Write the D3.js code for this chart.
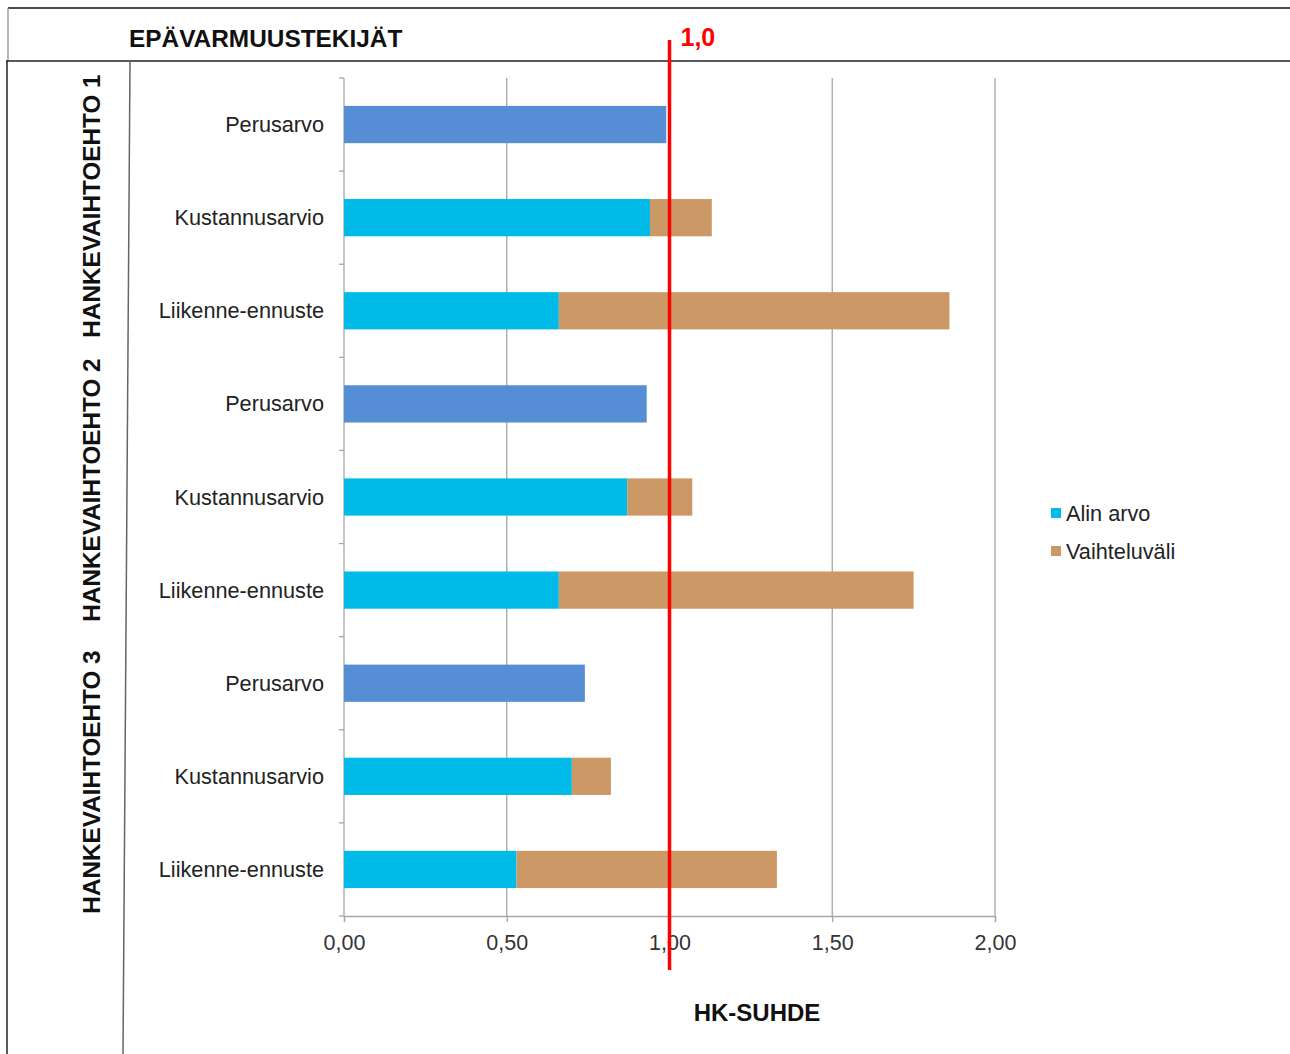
<!DOCTYPE html>
<html>
<head>
<meta charset="utf-8">
<script src="https://cdn.jsdelivr.net/npm/d3@7"></script>
<style>
  html, body { margin: 0; padding: 0; background: #fff; }
  svg { display: block; font-family: "Liberation Sans", Arial, sans-serif; }
</style>
</head>
<body>
<svg id="chart" width="1290" height="1054"></svg>
<script>
// Uncertainty factors per project alternative (top to bottom)
const categories = [
  "Perusarvo", "Kustannusarvio", "Liikenne-ennuste",
  "Perusarvo", "Kustannusarvio", "Liikenne-ennuste",
  "Perusarvo", "Kustannusarvio", "Liikenne-ennuste"
];
const groups = ["HANKEVAIHTOEHTO 1", "HANKEVAIHTOEHTO 2", "HANKEVAIHTOEHTO 3"];

// Lowest benefit-cost ratio (Perusarvo rows hold the base value)
const alinArvo = [0.99, 0.94, 0.66, 0.93, 0.87, 0.66, 0.74, 0.70, 0.53];
// Range between lowest and highest ratio
const vaihteluvali = [0, 0.19, 1.20, 0, 0.20, 1.09, 0, 0.12, 0.80];

const seriesNames = ["Alin arvo", "Vaihteluväli"];
const xTicks = [0, 0.5, 1.0, 1.5, 2.0];
const thresholdValue = 1.0;

const colors = { base: "#558ed5", alin: "#00bbe8", range: "#cc9966" };

const svg = d3.select("#chart");
const plot = { left: 344, right: 995, top: 78, bottom: 916 };

const x = d3.scaleLinear().domain([0, 2]).range([plot.left, plot.right]);
const y = d3.scaleBand()
  .domain(d3.range(categories.length))
  .range([plot.top, plot.bottom])
  .paddingInner(0.6)
  .paddingOuter(0.3);
const step = y.step();

const fmt = v => d3.format(".2f")(v).replace(".", ",");

// Frame: header strip and left border
const frame = svg.append("g").attr("fill", "none");
frame.append("line").attr("x1", 8).attr("x2", 1290).attr("y1", 8).attr("y2", 8)
  .attr("stroke", "#111").attr("stroke-width", 1.5);
frame.append("line").attr("x1", 8).attr("x2", 8).attr("y1", 8).attr("y2", 61)
  .attr("stroke", "#888").attr("stroke-width", 1.2);
frame.append("line").attr("x1", 6).attr("x2", 1290).attr("y1", 61).attr("y2", 61)
  .attr("stroke", "#222").attr("stroke-width", 1.5);
frame.append("line").attr("x1", 7).attr("x2", 7).attr("y1", 61).attr("y2", 1054)
  .attr("stroke", "#222").attr("stroke-width", 1.5);
frame.append("line").attr("x1", 130).attr("x2", 123).attr("y1", 62).attr("y2", 1054)
  .attr("stroke", "#666").attr("stroke-width", 1.5);

svg.append("text")
  .attr("x", 129).attr("y", 47)
  .attr("font-weight", "bold").attr("font-size", 24.4).attr("fill", "#111")
  .text("EPÄVARMUUSTEKIJÄT");

// Vertical gridlines
svg.append("g")
  .selectAll("line")
  .data(xTicks.slice(1))
  .join("line")
  .attr("x1", d => x(d)).attr("x2", d => x(d))
  .attr("y1", plot.top).attr("y2", plot.bottom)
  .attr("stroke", "#a6a6a6").attr("stroke-width", 1.3);

// X axis
const xAxis = svg.append("g")
  .attr("transform", `translate(0,${plot.bottom})`)
  .call(d3.axisBottom(x).tickValues(xTicks).tickFormat(fmt).tickSize(6).tickPadding(13));
xAxis.select(".domain").attr("stroke", "#a6a6a6").attr("stroke-width", 1.3);
xAxis.selectAll(".tick line").attr("stroke", "#a6a6a6").attr("stroke-width", 1.3);
xAxis.selectAll(".tick text")
  .attr("font-family", "'Liberation Sans', Arial, sans-serif")
  .attr("font-size", 21.5).attr("fill", "#333");

// Y axis with category boundary ticks
const yAxisG = svg.append("g");
yAxisG.append("line")
  .attr("x1", plot.left).attr("x2", plot.left)
  .attr("y1", plot.top).attr("y2", plot.bottom)
  .attr("stroke", "#a6a6a6").attr("stroke-width", 1.3);
yAxisG.selectAll("line.bt")
  .data(d3.range(categories.length + 1))
  .join("line").attr("class", "bt")
  .attr("x1", plot.left - 5).attr("x2", plot.left)
  .attr("y1", i => plot.top + i * step).attr("y2", i => plot.top + i * step)
  .attr("stroke", "#a6a6a6").attr("stroke-width", 1.3);
yAxisG.selectAll("text")
  .data(categories)
  .join("text")
  .attr("x", plot.left - 20)
  .attr("y", (d, i) => y(i) + y.bandwidth() / 2)
  .attr("dy", "0.35em")
  .attr("text-anchor", "end")
  .attr("font-size", 21.7).attr("fill", "#222")
  .text(d => d);

// Bars: lowest value, then the range stacked on top
const bars = svg.append("g");
bars.selectAll("rect.alin")
  .data(alinArvo)
  .join("rect").attr("class", "alin")
  .attr("x", x(0))
  .attr("y", (d, i) => y(i))
  .attr("width", d => x(d) - x(0))
  .attr("height", y.bandwidth())
  .attr("fill", (d, i) => categories[i] === "Perusarvo" ? colors.base : colors.alin);
bars.selectAll("rect.range")
  .data(vaihteluvali)
  .join("rect").attr("class", "range")
  .attr("x", (d, i) => x(alinArvo[i]))
  .attr("y", (d, i) => y(i))
  .attr("width", d => x(d) - x(0))
  .attr("height", y.bandwidth())
  .attr("fill", colors.range);

// Project alternative labels (rotated)
const groupLabelY = [206, 490, 782];
svg.append("g")
  .selectAll("text")
  .data(groups)
  .join("text")
  .attr("transform", (d, i) => `translate(100,${groupLabelY[i]}) rotate(-90)`)
  .attr("text-anchor", "middle")
  .attr("font-weight", "bold").attr("font-size", 24.3).attr("fill", "#111")
  .text(d => d);

// Break-even reference line
svg.append("line")
  .attr("x1", x(thresholdValue)).attr("x2", x(thresholdValue))
  .attr("y1", 40).attr("y2", 970)
  .attr("stroke", "#ff0000").attr("stroke-width", 3.5);
svg.append("text")
  .attr("x", x(thresholdValue) + 11).attr("y", 46)
  .attr("font-weight", "bold").attr("font-size", 25).attr("fill", "#ff0000")
  .text(d3.format(".1f")(thresholdValue).replace(".", ","));

// X axis title
svg.append("text")
  .attr("x", 757).attr("y", 1021)
  .attr("text-anchor", "middle")
  .attr("font-weight", "bold").attr("font-size", 24).attr("fill", "#111")
  .text("HK-SUHDE");

// Legend
const legend = svg.append("g").attr("transform", "translate(1051,513)");
const legendItems = legend.selectAll("g")
  .data(seriesNames)
  .join("g")
  .attr("transform", (d, i) => `translate(0,${i * 38})`);
legendItems.append("rect")
  .attr("x", 0).attr("y", -5).attr("width", 10).attr("height", 10)
  .attr("fill", (d, i) => i === 0 ? colors.alin : colors.range);
legendItems.append("text")
  .attr("x", 15).attr("dy", "0.35em")
  .attr("font-size", 21.7).attr("fill", "#222")
  .text(d => d);
</script>
</body>
</html>
